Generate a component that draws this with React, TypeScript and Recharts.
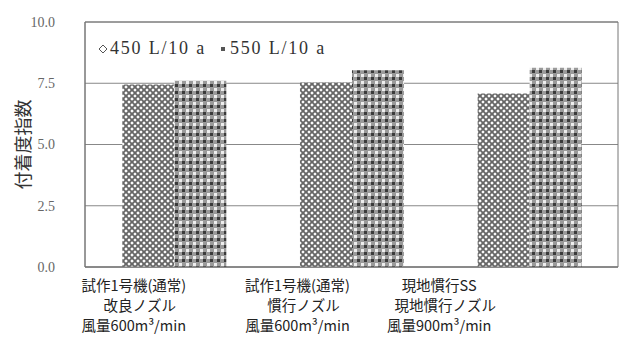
import { BarChart, Bar, XAxis, YAxis, CartesianGrid, Legend, ReferenceArea } from 'recharts'

const line1 = ['試作1号機(通常)', '試作1号機(通常)', '現地慣行SS']
const line2 = ['改良ノズル', '慣行ノズル', '現地慣行ノズル']
const line3 = ['風量600m³/min', '風量600m³/min', '風量900m³/min']
const vol450 = [7.45, 7.53, 7.08]
const vol550 = [7.6, 8.03, 8.13]
const yTicks = [0, 2.5, 5, 7.5, 10]
const seriesNames = ['450 L/10 a', '550 L/10 a']

const data = line1.map((c, i) => ({ name: c, v450: vol450[i], v550: vol550[i] }))

// labels sit left of the bar groups in the original
const TICK_SHIFT = [-40, -54, -90]

function CatTick(props: any) {
  const { x, y, payload } = props
  const i = payload.index
  const cx = x + TICK_SHIFT[i]
  const style = { fontFamily: '"Noto Sans CJK JP", sans-serif', fontSize: 14.5, fill: '#222' }
  return (
    <g>
      <text x={cx} y={y + 16} textAnchor="middle" style={style}>{line1[i]}</text>
      <text x={cx + 6} y={y + 36} textAnchor="middle" style={style}>{line2[i]}</text>
      <text x={cx} y={y + 56} textAnchor="middle" style={style}>{line3[i]}</text>
    </g>
  )
}

function LegendBox() {
  const txt = { fontFamily: '"Liberation Serif", serif', fontSize: 18, color: '#333', letterSpacing: 1.8 }
  return (
    <div style={{ display: 'flex', alignItems: 'center', whiteSpace: 'nowrap' }}>
      <svg width={10} height={10} style={{ marginRight: 2 }}>
        <path d="M5 1 L9 5 L5 9 L1 5 Z" fill="none" stroke="#555" strokeWidth={1} />
      </svg>
      <span style={txt}>{seriesNames[0]}</span>
      <svg width={10} height={10} style={{ marginLeft: 12, marginRight: 2 }}>
        <rect x={3} y={3} width={4} height={4} fill="#555" />
      </svg>
      <span style={txt}>{seriesNames[1]}</span>
    </div>
  )
}

export default function App() {
  return (
    <div style={{ position: 'absolute', left: 0, top: 0, background: '#fff' }}>
      <BarChart
        width={633}
        height={342}
        data={data}
        margin={{ top: 22, right: 15, left: 0, bottom: 0 }}
        barCategoryGap="21%"
        barGap={0}
      >
        <defs>
          <pattern id="hatch" width={6} height={6} patternUnits="userSpaceOnUse">
            <rect width={6} height={6} fill="#fff" />
            <path d="M0 0 L6 6 M6 0 L0 6" stroke="#666" strokeWidth={1.9} />
          </pattern>
          <pattern id="check" width={7} height={7} patternUnits="userSpaceOnUse">
            <rect width={7} height={7} fill="#9a9a9a" />
            <rect x={0} y={0} width={3} height={3} fill="#3a3a3a" />
            <rect x={4} y={4} width={3} height={3} fill="#eee" />
          </pattern>
        </defs>
        <CartesianGrid vertical={false} stroke="#888" strokeWidth={1} />
        <ReferenceArea y1={0} y2={10} fill="none" fillOpacity={0} stroke="#777" strokeWidth={1} ifOverflow="visible" />
        <XAxis
          dataKey="name"
          tick={<CatTick />}
          tickLine={false}
          axisLine={{ stroke: '#777' }}
          height={75}
          interval={0}
        />
        <YAxis
          domain={[0, 10]}
          ticks={yTicks}
          tickFormatter={(v: number) => v.toFixed(1)}
          tick={{ fontFamily: '"Liberation Serif", serif', fontSize: 14, fill: '#666' }}
          tickLine={false}
          tickMargin={24}
          axisLine={{ stroke: '#777' }}
          width={85}
          label={{
            value: '付着度指数',
            angle: -90,
            position: 'insideLeft',
            offset: 24,
            style: { fontFamily: '"Noto Sans CJK JP", sans-serif', fontSize: 18, fill: '#333', textAnchor: 'middle' },
          }}
        />
        <Legend
          layout="vertical"
          align="center"
          verticalAlign="middle"
          content={<LegendBox />}
          wrapperStyle={{ position: 'absolute', left: 98, top: 38, width: 'auto' }}
        />
        <Bar dataKey="v450" name={seriesNames[0]} fill="url(#hatch)" isAnimationActive={false} />
        <Bar dataKey="v550" name={seriesNames[1]} fill="url(#check)" isAnimationActive={false} />
      </BarChart>
    </div>
  )
}
